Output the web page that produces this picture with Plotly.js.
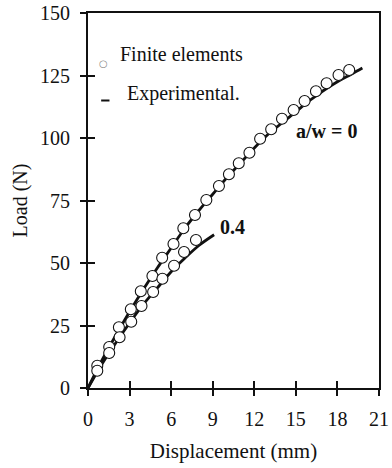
<!DOCTYPE html>
<html>
<head>
<meta charset="utf-8">
<script src="https://cdn.plot.ly/plotly-3.0.1.min.js"></script>
<style>html,body{margin:0;padding:0;background:#fff;}#chart{width:392px;height:468px;}</style>
</head>
<body>
<div id="chart"></div>
<script>
// Finite elements, a/w = 0
const feX0 = [0.67,1.53,2.23,3.09,3.81,4.65,5.35,6.17,6.88,7.72,8.54,9.45,10.17,10.88,11.65,12.42,13.22,14.0,14.84,15.63,16.45,17.22,18.08,18.85];
const feY0 = [8.9,16.4,24.3,31.5,38.7,44.8,52.1,57.6,63.9,69.2,75.2,80.8,85.5,89.9,94.1,99.7,103.5,107.7,111.2,114.8,118.7,121.9,125.2,127.2];
// Finite elements, a/w = 0.4
const feX4 = [0.67,1.53,2.28,3.12,3.86,4.70,5.37,6.21,6.93,7.79];
const feY4 = [6.9,14.0,20.3,26.5,32.8,38.4,43.7,48.9,54.4,59.2];
// Experimental, a/w = 0
const exX0 = [0,1,2,3,4,5,6,7,8,9,10,11,12,13,14,15,16,17,18,19,19.8];
const exY0 = [0,11,21,30.5,39.5,48,56,64,71,77.5,84,90,96,101.5,106,110.5,115,119,122.5,125.5,128];
// Experimental, a/w = 0.4
const exX4 = [0,1,2,3,4,5,6,7,8,9.1];
const exY4 = [0,9.5,18,26,33.5,40,46.5,52,57,61.3];

const xTicks = [0,3,6,9,12,15,18,21];
const yTicks = [0,25,50,75,100,125,150];

const FONT = "Liberation Serif, Times New Roman, serif";
const INK = "#111";

const lineStyle = {color: INK, width: 2.8, shape: 'spline'};
const markerStyle = {symbol: 'circle', size: 11, color: '#fff', line: {color: INK, width: 1.1}};

const traces = [
  {x: exX0, y: exY0, mode: 'lines', line: lineStyle, showlegend: false, hoverinfo: 'skip'},
  {x: exX4, y: exY4, mode: 'lines', line: lineStyle, showlegend: false, hoverinfo: 'skip'},
  {x: feX0, y: feY0, mode: 'markers', marker: markerStyle, showlegend: false, cliponaxis: false},
  {x: feX4, y: feY4, mode: 'markers', marker: markerStyle, showlegend: false, cliponaxis: false},
  // empty trace that only activates the overlay axes carrying the inner half of each tick
  {x: [null], y: [null], xaxis: 'x2', yaxis: 'y2', mode: 'lines', showlegend: false, hoverinfo: 'skip'}
];

const axisBase = {
  showgrid: false, zeroline: false, showline: true, linecolor: INK, linewidth: 2,
  ticks: 'outside', ticklen: 6, tickwidth: 2, tickcolor: INK,
  tickfont: {family: FONT, size: 20, color: INK}
};

const layout = {
  width: 392, height: 468,
  margin: {l: 88, r: 13, t: 13, b: 80},
  paper_bgcolor: '#fff', plot_bgcolor: '#fff',
  showlegend: false,
  xaxis: Object.assign({}, axisBase, {
    range: [0, 21], tickvals: xTicks, ticktext: xTicks.map(String),
    mirror: true, ticklabelstandoff: 6,
    title: {text: 'Displacement (mm)', font: {family: FONT, size: 21, color: INK}, standoff: 14}
  }),
  yaxis: Object.assign({}, axisBase, {
    range: [0, 150], tickvals: yTicks, ticktext: yTicks.map(String),
    mirror: true, ticklabelstandoff: 6,
    title: {text: 'Load (N)', font: {family: FONT, size: 20, color: INK}, standoff: 7}
  }),
  xaxis2: {
    overlaying: 'x', range: [0, 21], anchor: 'y2', side: 'bottom',
    tickvals: xTicks, ticks: 'inside', ticklen: 7, tickwidth: 2, tickcolor: INK,
    showticklabels: false, showline: false, showgrid: false, zeroline: false
  },
  yaxis2: {
    overlaying: 'y', range: [0, 150], anchor: 'x2', side: 'left',
    tickvals: yTicks, ticks: 'inside', ticklen: 7, tickwidth: 2, tickcolor: INK,
    showticklabels: false, showline: false, showgrid: false, zeroline: false
  },
  shapes: [
    {type: 'line', xref: 'x', yref: 'y', x0: 0.95, x1: 1.55, y0: 115, y1: 115,
     line: {color: INK, width: 2}}
  ],
  annotations: [
    {x: 1.15, y: 130, xref: 'x', yref: 'y', text: '○', showarrow: false,
     font: {family: 'DejaVu Sans', size: 10, color: '#888'}},
    {x: 2.2, y: 133.5, xref: 'x', yref: 'y', xanchor: 'left', text: 'Finite elements', showarrow: false,
     font: {family: FONT, size: 20, color: INK}},
    {x: 2.68, y: 118, xref: 'x', yref: 'y', xanchor: 'left', text: 'Experimental.', showarrow: false,
     font: {family: FONT, size: 20, color: INK}},
    {x: 17.2, y: 102.8, xref: 'x', yref: 'y', text: '<b>a/w = 0</b>', showarrow: false,
     font: {family: FONT, size: 20, color: INK}},
    {x: 10.4, y: 64.6, xref: 'x', yref: 'y', text: '<b>0.4</b>', showarrow: false,
     font: {family: FONT, size: 20, color: INK}}
  ]
};

Plotly.newPlot('chart', traces, layout, {staticPlot: true, displayModeBar: false});
</script>
</body>
</html>
